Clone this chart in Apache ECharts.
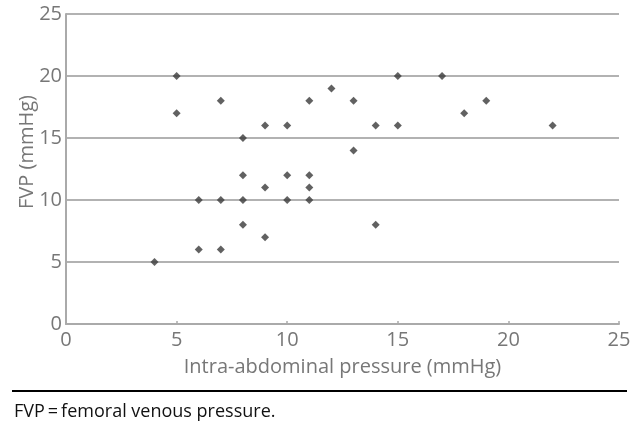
<!DOCTYPE html>
<html>
<head>
<meta charset="utf-8">
<script src="https://cdn.jsdelivr.net/npm/echarts@6/dist/echarts.min.js"></script>
<style>
html,body{margin:0;padding:0;background:#fff;}
#chart{width:640px;height:433px;}
</style>
</head>
<body>
<div id="chart"></div>
<script>
// Data
var iap = [4, 5, 5, 6, 6, 7, 7, 7, 8, 8, 8, 8, 9, 9, 9, 10, 10, 10, 11, 11, 11, 11, 12, 13, 13, 14, 14, 15, 15, 17, 18, 19, 22];
var fvp = [5, 20, 17, 10, 6, 18, 10, 6, 15, 12, 10, 8, 16, 11, 7, 16, 12, 10, 18, 12, 11, 10, 19, 18, 14, 16, 8, 20, 16, 20, 17, 18, 16];
var xTicks = [0, 5, 10, 15, 20, 25];
var yTicks = [0, 5, 10, 15, 20, 25];
var xName = 'Intra-abdominal pressure (mmHg)';
var yName = 'FVP (mmHg)';
var footnote = 'FVP\u2009=\u2009femoral venous pressure.';

var points = iap.map(function (x, i) { return [x, fvp[i]]; });
var font = '"Open Sans", "Noto Sans", sans-serif';
var chart = echarts.init(document.getElementById('chart'), null, {renderer: 'canvas'});
chart.setOption({
  animation: false,
  backgroundColor: '#ffffff',
  grid: {left: 66, right: 21, top: 14, bottom: 109, containLabel: false},
  xAxis: {
    type: 'value', min: xTicks[0], max: xTicks[xTicks.length - 1], interval: 5,
    name: xName, nameLocation: 'middle', nameGap: 33, nameMoveOverlap: false,
    nameTextStyle: {color: '#777', fontSize: 20, fontFamily: font, verticalAlign: 'top'},
    axisLine: {show: true, lineStyle: {color: '#aaa', width: 2}},
    axisTick: {show: true, inside: true, length: 3, lineStyle: {color: '#aaa', width: 1.5}},
    axisLabel: {color: '#777', fontSize: 20, fontFamily: font, margin: 6},
    splitLine: {show: false}
  },
  yAxis: {
    type: 'value', min: yTicks[0], max: yTicks[yTicks.length - 1], interval: 5,
    name: yName, nameLocation: 'middle', nameGap: 29, nameRotate: 90, nameMoveOverlap: false,
    nameTextStyle: {color: '#777', fontSize: 20, fontFamily: font, verticalAlign: 'bottom', padding: [0, 0, 0, 34]},
    axisLine: {show: true, lineStyle: {color: '#aaa', width: 2}},
    axisTick: {show: false},
    axisLabel: {color: '#777', fontSize: 20, fontFamily: font, margin: 4},
    splitLine: {show: true, lineStyle: {color: '#999', width: 1.5}}
  },
  series: [{
    type: 'scatter',
    data: points,
    symbol: 'diamond',
    symbolSize: 8,
    itemStyle: {color: '#3a3a3a'}
  }],
  graphic: [
    {type: 'line', shape: {x1: 12, y1: 391, x2: 627, y2: 391}, style: {stroke: '#000', lineWidth: 2}},
    {type: 'text', left: 14, top: 403, style: {text: footnote, fill: '#111', fontSize: 18, fontFamily: font}}
  ]
});
</script>
</body>
</html>
